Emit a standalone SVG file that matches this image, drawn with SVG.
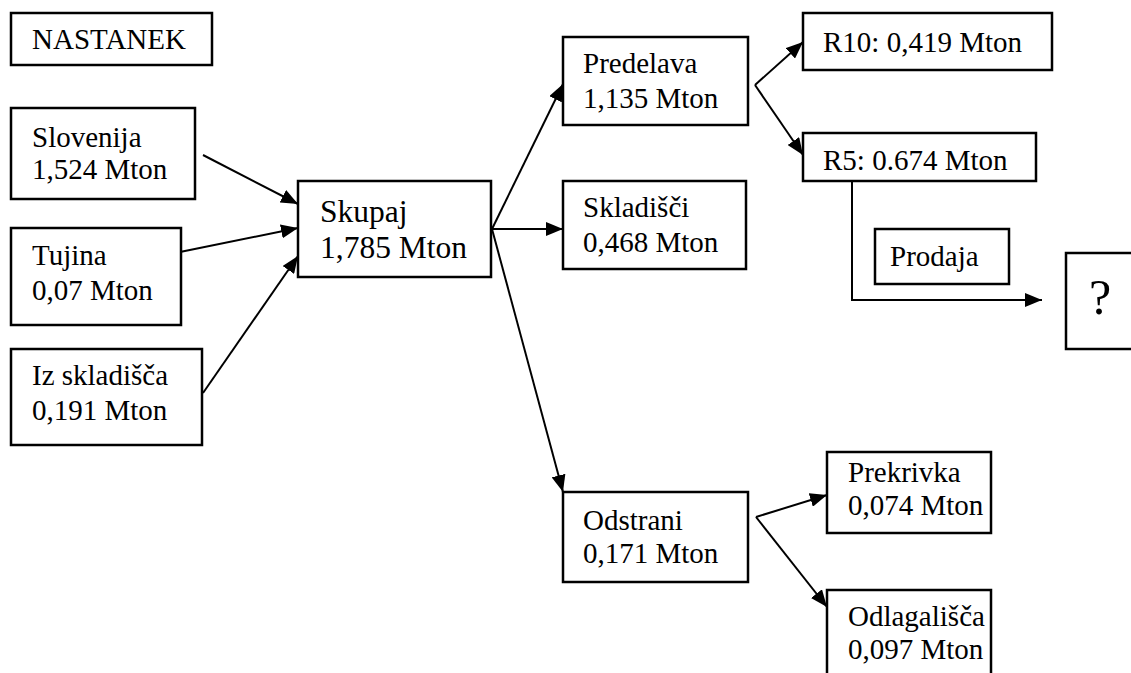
<svg xmlns="http://www.w3.org/2000/svg" width="1131" height="673" viewBox="0 0 1131 673">
  <style>
    .box { fill: #ffffff; stroke: #000000; stroke-width: 2.5; }
    .lbl { font-family: "Liberation Serif", "Times New Roman", serif; font-size: 29px; fill: #000000; }
    .big { font-size: 31.5px; }
    .q { font-size: 50px; }
    .edge { fill: none; stroke: #000000; stroke-width: 2; marker-end: url(#arrow); }
  </style>
  <defs>
    <marker id="arrow" markerUnits="userSpaceOnUse" markerWidth="18" markerHeight="14" refX="17" refY="7" orient="auto">
      <path d="M0,0 L17,7 L0,14 z" fill="#000000"/>
    </marker>
  </defs>
  <rect width="1131" height="673" fill="#ffffff"/>

  <g id="connectors">
    <!-- inputs into the total -->
    <line class="edge" x1="203" y1="155" x2="298" y2="204"/>
    <line class="edge" x1="180" y1="252" x2="298" y2="228"/>
    <line class="edge" x1="203" y1="393" x2="298" y2="256"/>
    <!-- total fans out -->
    <line class="edge" x1="492" y1="229" x2="563" y2="84"/>
    <line class="edge" x1="492" y1="229" x2="563" y2="229"/>
    <line class="edge" x1="492" y1="229" x2="563" y2="492"/>
    <!-- processing split -->
    <line class="edge" x1="755" y1="85" x2="803" y2="42"/>
    <line class="edge" x1="755" y1="85" x2="803" y2="155"/>
    <!-- sale route -->
    <polyline class="edge" points="852,181 852,300 1042,300"/>
    <!-- disposal split -->
    <line class="edge" x1="756" y1="517" x2="827" y2="495"/>
    <line class="edge" x1="756" y1="517" x2="827" y2="607"/>
  </g>

  <g id="nastanek">
    <rect class="box" x="11" y="13" width="201" height="52"/>
    <text class="lbl" x="32" y="49">NASTANEK</text>
  </g>

  <g id="slovenija">
    <rect class="box" x="11" y="108" width="184" height="91"/>
    <text class="lbl" x="32" y="147">Slovenija</text>
    <text class="lbl" x="32" y="179">1,524 Mton</text>
  </g>

  <g id="tujina">
    <rect class="box" x="11" y="228" width="170" height="97"/>
    <text class="lbl" x="32" y="265">Tujina</text>
    <text class="lbl" x="32" y="300">0,07 Mton</text>
  </g>

  <g id="iz-skladisca">
    <rect class="box" x="11" y="349" width="191" height="96"/>
    <text class="lbl" x="32" y="385">Iz skladišča</text>
    <text class="lbl" x="32" y="420">0,191 Mton</text>
  </g>

  <g id="skupaj">
    <rect class="box" x="298" y="181" width="193" height="96"/>
    <text class="lbl big" x="320" y="222">Skupaj</text>
    <text class="lbl big" x="320" y="258">1,785 Mton</text>
  </g>

  <g id="predelava">
    <rect class="box" x="563" y="37" width="185" height="88"/>
    <text class="lbl" x="583" y="73">Predelava</text>
    <text class="lbl" x="583" y="108">1,135 Mton</text>
  </g>

  <g id="skladisci">
    <rect class="box" x="563" y="181" width="183" height="88"/>
    <text class="lbl" x="583" y="217">Skladišči</text>
    <text class="lbl" x="583" y="252">0,468 Mton</text>
  </g>

  <g id="odstrani">
    <rect class="box" x="563" y="492" width="185" height="90"/>
    <text class="lbl" x="583" y="530">Odstrani</text>
    <text class="lbl" x="583" y="563">0,171 Mton</text>
  </g>

  <g id="r10">
    <rect class="box" x="803" y="13" width="249" height="57"/>
    <text class="lbl" x="823" y="52">R10: 0,419 Mton</text>
  </g>

  <g id="r5">
    <rect class="box" x="803" y="133" width="233" height="48"/>
    <text class="lbl" x="823" y="170">R5: 0.674 Mton</text>
  </g>

  <g id="prodaja">
    <rect class="box" x="875" y="229" width="134" height="55"/>
    <text class="lbl" x="890" y="266">Prodaja</text>
  </g>

  <g id="neznano">
    <rect class="box" x="1066" y="253" width="80" height="96"/>
    <text class="lbl q" x="1089" y="314">?</text>
  </g>

  <g id="prekrivka">
    <rect class="box" x="827" y="452" width="164" height="81"/>
    <text class="lbl" x="848" y="482">Prekrivka</text>
    <text class="lbl" x="848" y="515">0,074 Mton</text>
  </g>

  <g id="odlagalisca">
    <rect class="box" x="827" y="590" width="164" height="100"/>
    <text class="lbl" x="848" y="626">Odlagališča</text>
    <text class="lbl" x="848" y="659">0,097 Mton</text>
  </g>
</svg>
